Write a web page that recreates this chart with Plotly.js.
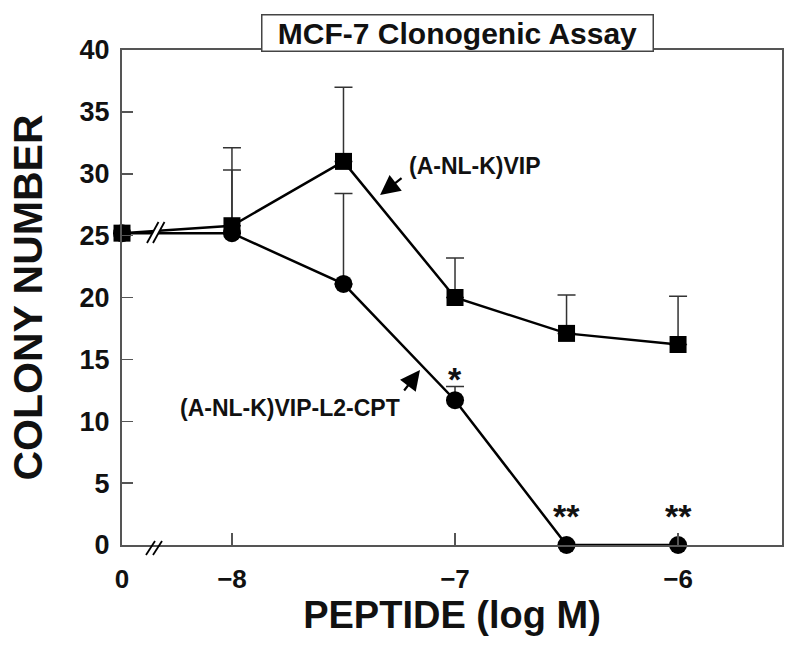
<!DOCTYPE html>
<html>
<head>
<meta charset="utf-8">
<script src="https://cdn.plot.ly/plotly-3.0.1.min.js"></script>
<style>html,body{margin:0;padding:0;background:#fff;}#chart{width:800px;height:648px;}</style>
</head>
<body>
<div id="chart"></div>
<script>
// ---- data ----
// position of the "0" (control) point on the broken log axis
const controlPos = -8.493;
const peptideLogM = [controlPos, -8, -7.5, -7, -6.5, -6];
const vipValues   = [25.2, 25.8, 31.0, 20.0, 17.1, 16.2];
const vipErrUp    = [0, 6.3, 6.0, 3.2, 3.1, 3.9];
const cptValues   = [25.2, 25.2, 21.1, 11.7, 0, 0];
const cptErrUp    = [0, 5.1, 7.3, 1.1, 0, 0];
const xTickVals   = [controlPos, -8, -7, -6];
const xTickText   = ['0', '\u22128', '\u22127', '\u22126'];
const yTickVals   = [0, 5, 10, 15, 20, 25, 30, 35, 40];
const starX       = [-7, -6.5, -6];
const starY       = [11.7, 0, 0];
const starText    = ['*', '**', '**'];

// ---- layout geometry (pixels) ----
const W = 800, H = 648, L = 122, R = 18, T = 50, B = 103;
const pw = W - L - R, ph = H - T - B;
const px2paperX = p => (p - L) / pw;
const px2paperY = p => (H - B - p) / ph;

const FONT = 'Liberation Sans, Arial, Helvetica, sans-serif';
const axisCol = '#555';

const traces = [
  {
    x: peptideLogM, y: cptValues, type: 'scatter', mode: 'lines+markers',
    name: '(A-NL-K)VIP-L2-CPT', cliponaxis: false,
    line: {color: '#000', width: 2.5},
    marker: {symbol: 'circle', size: 18, color: '#000'},
    error_y: {type: 'data', symmetric: false, array: cptErrUp, arrayminus: cptValues.map(() => 0),
              color: '#333', thickness: 1.5, width: 9}
  },
  {
    x: peptideLogM, y: vipValues, type: 'scatter', mode: 'lines+markers',
    name: '(A-NL-K)VIP', cliponaxis: false,
    line: {color: '#000', width: 2.5},
    marker: {symbol: 'square', size: 17, color: '#000'},
    error_y: {type: 'data', symmetric: false, array: vipErrUp, arrayminus: vipValues.map(() => 0),
              color: '#333', thickness: 1.5, width: 9}
  }
];

function slash(x0, y0, x1, y1) {
  return {type: 'line', xref: 'paper', yref: 'paper', layer: 'above',
          x0: px2paperX(x0), y0: px2paperY(y0), x1: px2paperX(x1), y1: px2paperY(y1),
          line: {color: '#000', width: 1.8}};
}
function polyPath(pts) {
  return 'M' + pts.map(p => px2paperX(p[0]).toFixed(5) + ',' + px2paperY(p[1]).toFixed(5)).join(' L') + ' Z';
}

const shapes = [
  // break on the data lines
  {type: 'path', xref: 'paper', yref: 'paper', layer: 'above',
   path: polyPath([[147, 243], [158.5, 222], [164.5, 222], [153, 243]]),
   fillcolor: '#fff', line: {width: 0}},
  slash(147, 243, 158.5, 222),
  slash(153, 243, 164.5, 222),
  // break on the x axis
  slash(146, 555, 155, 541),
  slash(153, 555, 162, 541)
];

const annotations = [
  {xref: 'paper', yref: 'paper', x: px2paperX(457), y: px2paperY(33), xanchor: 'center', yanchor: 'middle',
   text: 'MCF-7 Clonogenic Assay', showarrow: false,
   font: {family: FONT, size: 30, color: '#111', weight: 'bold'},
   bgcolor: '#fff', bordercolor: '#444', borderwidth: 1.5, borderpad: 0, width: 390, height: 35},
  {xref: 'x', yref: 'y', x: -7.215, y: 30.63, xanchor: 'left', yanchor: 'middle', showarrow: false,
   text: '(A-NL-K)VIP', font: {family: FONT, size: 23, color: '#111', weight: 'bold'}},
  {xref: 'x', yref: 'y', x: -7.336, y: 28.28, text: '', showarrow: true, axref: 'pixel', ayref: 'pixel',
   ax: 23, ay: -18, arrowhead: 2, arrowsize: 1.8, arrowwidth: 2.2, arrowcolor: '#000', standoff: 0},
  {xref: 'x', yref: 'y', x: -7.742, y: 11.07, xanchor: 'center', yanchor: 'middle', showarrow: false,
   text: '(A-NL-K)VIP-L2-CPT', font: {family: FONT, size: 23, color: '#111', weight: 'bold'}},
  {xref: 'x', yref: 'y', x: -7.157, y: 14.14, text: '', showarrow: true, axref: 'pixel', ayref: 'pixel',
   ax: -17, ay: 22, arrowhead: 2, arrowsize: 1.8, arrowwidth: 2.2, arrowcolor: '#000', standoff: 0}
];
const starShift = [0, 8, 8];
starX.forEach((sx, i) => annotations.push({
  xref: 'x', yref: 'y', x: sx, y: starY[i], yshift: starShift[i], xanchor: 'center', yanchor: 'bottom', showarrow: false,
  text: starText[i], font: {family: FONT, size: 34, color: '#111', weight: 'bold'}
}));

const layout = {
  width: W, height: H,
  margin: {l: L, r: R, t: T, b: B, pad: 0},
  paper_bgcolor: '#fff', plot_bgcolor: '#fff',
  showlegend: false,
  xaxis: {
    range: [controlPos, -5.534], tickmode: 'array', tickvals: xTickVals, ticktext: xTickText,
    ticks: 'inside', ticklen: 12, tickwidth: 1.5, tickcolor: axisCol,
    showline: true, linecolor: axisCol, linewidth: 2, mirror: true,
    showgrid: false, zeroline: false, ticklabelstandoff: 10,
    tickfont: {family: FONT, size: 26, color: '#111', weight: 'bold'},
    title: {text: 'PEPTIDE (log M)', standoff: 0, font: {family: FONT, size: 38, color: '#111', weight: 'bold'}}
  },
  yaxis: {
    range: [0, 40], tickmode: 'array', tickvals: yTickVals,
    ticks: 'inside', ticklen: 11, tickwidth: 1.5, tickcolor: axisCol,
    showline: true, linecolor: axisCol, linewidth: 2, mirror: true,
    showgrid: false, zeroline: false, ticklabelstandoff: 5,
    tickfont: {family: FONT, size: 27, color: '#111', weight: 'bold'},
    title: {text: 'COLONY NUMBER', standoff: 24, font: {family: FONT, size: 41, color: '#111', weight: 'bold'}}
  },
  shapes: shapes,
  annotations: annotations
};

Plotly.newPlot('chart', traces, layout, {displayModeBar: false, staticPlot: true});
</script>
</body>
</html>
